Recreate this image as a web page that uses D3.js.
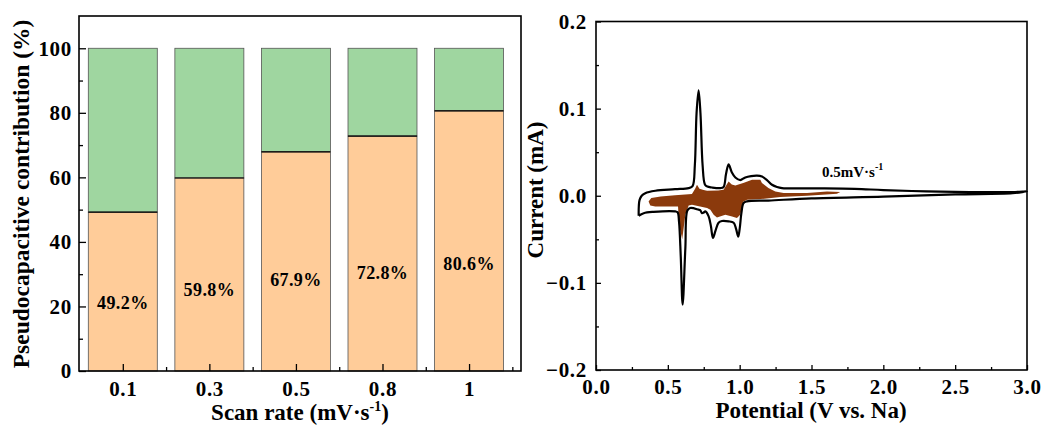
<!DOCTYPE html>
<html><head><meta charset="utf-8">
<script src="https://cdn.jsdelivr.net/npm/d3@7"></script>
<style>
body{margin:0;background:#fff;}
svg text{font-family:"Liberation Serif","Times New Roman",serif;font-weight:bold;fill:#000;}
</style></head>
<body><svg id="c" width="1044" height="426"></svg>
<script>
// ---------- Left panel data ----------
const scanRates = ["0.1","0.3","0.5","0.8","1"];
const pseudoPct = [49.2, 59.8, 67.9, 72.8, 80.6];
const totalPct = [100, 100, 100, 100, 100];
const leftYTicks = [0,20,40,60,80,100];
const leftYMinor = [10,30,50,70,90];

// ---------- Right panel data (CV, 0.5 mV/s) ----------
const cvAnodic = [
 [0.297,-0.023],[0.298,-0.012],[0.303,-0.005],[0.318,0.000],[0.343,0.003],[0.413,0.0057],
 [0.55,0.0075],[0.645,0.0088],[0.672,0.011],[0.688,0.035],[0.700,0.095],[0.714,0.121],
 [0.727,0.095],[0.742,0.035],[0.758,0.013],[0.775,0.0105],[0.807,0.0095],[0.865,0.0088],
 [0.888,0.010],[0.905,0.025],[0.923,0.036],[0.945,0.027],[0.970,0.021],[1.004,0.018],
 [1.039,0.021],[1.08,0.0225],[1.121,0.023],[1.155,0.022],[1.19,0.018],[1.225,0.0126],
 [1.26,0.010],[1.295,0.0088],[1.5,0.0085],[1.8,0.008],[2.0,0.0065],[2.3,0.005],
 [2.6,0.0042],[2.9,0.0042],[3.0,0.005]
];
const cvCathodic = [
 [3.0,0.0035],[2.9,0.003],[2.5,0.0015],[2.0,-0.001],[1.5,-0.003],[1.2,-0.0055],
 [1.05,-0.0065],[1.027,-0.0084],[1.012,-0.02],[1.0,-0.038],[0.99,-0.047],[0.975,-0.038],
 [0.958,-0.031],[0.923,-0.0294],[0.877,-0.029],[0.853,-0.031],[0.832,-0.040],[0.814,-0.0485],
 [0.800,-0.035],[0.784,-0.0237],[0.761,-0.018],[0.748,-0.0195],[0.738,-0.020],[0.725,-0.0165],
 [0.714,-0.016],[0.656,-0.0141],[0.636,-0.017],[0.622,-0.06],[0.603,-0.125],[0.590,-0.07],
 [0.578,-0.03],[0.568,-0.019],[0.552,-0.018],[0.40,-0.0185],[0.332,-0.020],[0.297,-0.023]
];
const capUpper = [
 [0.366,-0.0065],[0.385,-0.0026],[0.45,-0.001],[0.55,0.0005],[0.668,0.0019],[0.690,0.008],
 [0.703,0.0125],[0.72,0.008],[0.749,0.0065],[0.773,0.0057],[0.85,0.006],[0.888,0.0069],
 [0.91,0.013],[0.923,0.0164],[0.945,0.013],[0.970,0.0118],[1.03,0.015],[1.086,0.0183],
 [1.144,0.0183],[1.155,0.0146],[1.20,0.009],[1.248,0.0049],[1.306,0.0031],[1.469,0.0031],
 [1.608,0.0049],[1.70,0.0042]
];
const capLower = [
 [1.677,0.0023],[1.469,0.0],[1.283,-0.0015],[1.144,-0.0038],[1.051,-0.0046],[1.025,-0.007],
 [1.016,-0.0141],[1.004,-0.0218],[0.981,-0.0256],[0.947,-0.0237],[0.900,-0.0218],[0.842,-0.0249],
 [0.819,-0.0218],[0.796,-0.0160],[0.773,-0.0141],[0.668,-0.0103],[0.645,-0.0111],[0.622,-0.0218],
 [0.600,-0.050],[0.578,-0.0332],[0.571,-0.0123],[0.413,-0.0123],[0.378,-0.0111]
];
const rightXTicks = [0,0.5,1.0,1.5,2.0,2.5,3.0];
const rightXMinor = [0.25,0.75,1.25,1.75,2.25,2.75];
const rightYTicks = [-0.2,-0.1,0.0,0.1,0.2];
const rightYMinor = [-0.15,-0.05,0.05,0.15];
const scanLabel = {v:1.573, i:0.022};

const svg = d3.select("#c");
const tickFont = g => g.selectAll("text").style("font-size","21px").style("letter-spacing","0.7px");

// ================= LEFT PANEL =================
const L = {x0:79, x1:521, y0:16, y1:371};
const xL = d3.scaleLinear().domain([-0.506, 4.6]).range([L.x0, L.x1]);
const yL = d3.scaleLinear().domain([0, 110]).range([L.y1, L.y0]);
const step = xL(1) - xL(0);
const bw = step * 0.797;
const gL = svg.append("g");

const bars = gL.selectAll("g.bar").data(scanRates.map((c,i)=>({c, i, p:pseudoPct[i], t:totalPct[i]})))
  .enter().append("g");
bars.append("rect")
  .attr("x", d=>xL(d.i)-bw/2).attr("width", bw)
  .attr("y", d=>yL(d.t)).attr("height", d=>yL(d.p)-yL(d.t))
  .attr("fill","#9fd6a0").attr("stroke","#555").attr("stroke-width",0.8);
bars.append("rect")
  .attr("x", d=>xL(d.i)-bw/2).attr("width", bw)
  .attr("y", d=>yL(d.p)).attr("height", d=>yL(0)-yL(d.p))
  .attr("fill","#ffcc99").attr("stroke","#555").attr("stroke-width",0.8);
bars.append("line")
  .attr("x1", d=>xL(d.i)-bw/2).attr("x2", d=>xL(d.i)+bw/2)
  .attr("y1", d=>yL(d.p)).attr("y2", d=>yL(d.p))
  .attr("stroke","#000").attr("stroke-width",1.2);
bars.append("text")
  .attr("x", d=>xL(d.i)).attr("y", d=>yL(d.p*0.39))
  .attr("text-anchor","middle").style("font-size","18px").style("letter-spacing","0.4px")
  .text(d=>d.p.toFixed(1)+"%");

// axes
gL.append("g").attr("transform",`translate(0,${L.y1})`)
  .call(d3.axisBottom(xL).tickValues(d3.range(scanRates.length))
    .tickFormat(i=>scanRates[i]).tickSize(-7).tickPadding(10))
  .call(g=>g.select(".domain").remove())
  .call(tickFont);
gL.append("g").attr("transform",`translate(0,${L.y1})`)
  .call(d3.axisBottom(xL).tickValues(d3.range(scanRates.length).map(i=>i+0.5)).tickFormat("").tickSize(-4))
  .call(g=>g.select(".domain").remove());
gL.append("g").attr("transform",`translate(${L.x0},0)`)
  .call(d3.axisLeft(yL).tickValues(leftYTicks).tickSize(-7).tickPadding(7))
  .call(g=>g.select(".domain").remove())
  .call(tickFont);
gL.append("g").attr("transform",`translate(${L.x0},0)`)
  .call(d3.axisLeft(yL).tickValues(leftYMinor).tickFormat("").tickSize(-4))
  .call(g=>g.select(".domain").remove());
gL.selectAll(".tick line").attr("stroke","#000").attr("stroke-width",1.3);
gL.append("rect").attr("x",L.x0).attr("y",L.y0).attr("width",L.x1-L.x0).attr("height",L.y1-L.y0)
  .attr("fill","none").attr("stroke","#000").attr("stroke-width",1.6);

const tx = gL.append("text").attr("x",300).attr("y",420).attr("text-anchor","middle").style("font-size","23px");
tx.append("tspan").text("Scan rate (mV·s");
tx.append("tspan").attr("dy","-9").style("font-size","14px").text("-1");
tx.append("tspan").attr("dy","9").text(")");
gL.append("text").attr("transform","translate(29,194) rotate(-90)").attr("text-anchor","middle")
  .style("font-size","23.5px").text("Pseudocapacitive contribution (%)");

// ================= RIGHT PANEL =================
const R = {x0:596, x1:1027, y0:21.5, y1:370};
const xR = d3.scaleLinear().domain([0,3]).range([R.x0,R.x1]);
const yR = d3.scaleLinear().domain([-0.2,0.2]).range([R.y1,R.y0]);
const gR = svg.append("g");

gR.append("path")
  .attr("d", d3.line().x(d=>xR(d[0])).y(d=>yR(d[1])).curve(d3.curveLinearClosed)(capUpper.concat(capLower)))
  .attr("fill","#8b3a0c").attr("stroke","none");
gR.append("path")
  .attr("d", d3.line().x(d=>xR(d[0])).y(d=>yR(d[1])).curve(d3.curveCatmullRom.alpha(0.5))(cvAnodic.concat(cvCathodic.slice(1))))
  .attr("fill","none").attr("stroke","#000").attr("stroke-width",2.2).attr("stroke-linejoin","round");

gR.append("g").attr("transform",`translate(0,${R.y1})`)
  .call(d3.axisBottom(xR).tickValues(rightXTicks).tickFormat(d3.format(".1f")).tickSize(-5).tickPadding(9))
  .call(g=>g.select(".domain").remove())
  .call(tickFont);
gR.append("g").attr("transform",`translate(0,${R.y1})`)
  .call(d3.axisBottom(xR).tickValues(rightXMinor).tickFormat("").tickSize(-3))
  .call(g=>g.select(".domain").remove());
gR.append("g").attr("transform",`translate(${R.x0},0)`)
  .call(d3.axisLeft(yR).tickValues(rightYTicks).tickFormat(d3.format(".1f")).tickSize(-5).tickPadding(9))
  .call(g=>g.select(".domain").remove())
  .call(tickFont);
gR.append("g").attr("transform",`translate(${R.x0},0)`)
  .call(d3.axisLeft(yR).tickValues(rightYMinor).tickFormat("").tickSize(-3))
  .call(g=>g.select(".domain").remove());
gR.selectAll(".tick line").attr("stroke","#000").attr("stroke-width",1.3);
gR.append("rect").attr("x",R.x0).attr("y",R.y0).attr("width",R.x1-R.x0).attr("height",R.y1-R.y0)
  .attr("fill","none").attr("stroke","#000").attr("stroke-width",1.6);

const sl = gR.append("text").attr("x",xR(scanLabel.v)).attr("y",yR(scanLabel.i)).style("font-size","15px");
sl.append("tspan").text("0.5mV·s");
sl.append("tspan").attr("dy","-7").style("font-size","10px").text("-1");

gR.append("text").attr("x",811).attr("y",418).attr("text-anchor","middle").style("font-size","23px")
  .text("Potential (V vs. Na)");
gR.append("text").attr("transform","translate(543,190) rotate(-90)").attr("text-anchor","middle")
  .style("font-size","23px").text("Current (mA)");
</script></body></html>
